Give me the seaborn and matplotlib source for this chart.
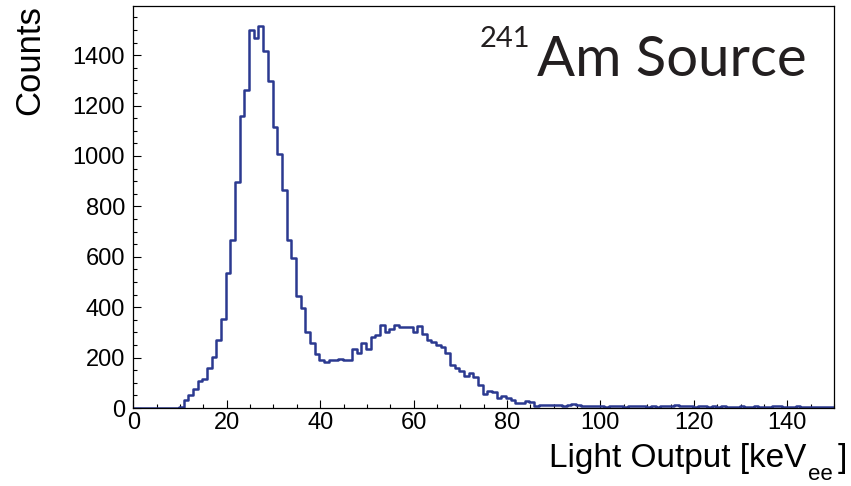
import numpy as np
import pandas as pd
import matplotlib
matplotlib.use("Agg")
import matplotlib.pyplot as plt
import seaborn as sns

# ---- data (counts per 1 keV bin) ----
bin_index = list(range(150))
counts = [0]*10 + [
    5, 32, 52, 75, 107, 114, 157, 204, 270, 354,          # 10-19
    537, 666, 895, 1158, 1261, 1499, 1468, 1517, 1417, 1296,  # 20-29
    1115, 1006, 865, 666, 594, 444, 395, 303, 259, 214,   # 30-39
    190, 184, 190, 189, 194, 189, 189, 234, 219, 259,     # 40-49
    233, 280, 291, 329, 300, 312, 329, 323, 320, 323,     # 50-59
    303, 327, 292, 270, 261, 250, 243, 219, 171, 157,     # 60-69
    148, 127, 140, 124, 91, 56, 69, 63, 41, 48,           # 70-79
    41, 32, 19, 19, 28, 23, 9, 13, 13, 12,                # 80-89
    12, 10, 9, 11, 16, 10, 7, 7, 6, 6,                    # 90-99
    6, 5, 7, 6, 8, 5, 9, 7, 6, 8,                         # 100-109
    5, 8, 5, 6, 9, 7, 11, 8, 6, 9,                        # 110-119
    5, 6, 8, 5, 7, 5, 6, 5, 4, 4,                         # 120-129
    6, 4, 5, 8, 5, 4, 4, 6, 7, 5,                         # 130-139
    4, 4, 6, 5, 5, 4, 3, 5, 4, 5,                         # 140-149
]
x_ticks = [0, 20, 40, 60, 80, 100, 120, 140]
y_ticks = [0, 200, 400, 600, 800, 1000, 1200, 1400]
x_label_main = "Light Output [keV"
x_label_sub = "ee"
x_label_end = "]"
y_label = "Counts"
source_mass = "241"
source_name = "Am Source"

# ---- style ----
sns.set_style("ticks")
plt.rcParams["font.family"] = ["Liberation Sans", "DejaVu Sans"]
plt.rcParams["text.color"] = "black"
plt.rcParams["axes.labelcolor"] = "black"
plt.rcParams["xtick.color"] = "black"
plt.rcParams["ytick.color"] = "black"

W, H = 851, 486
fig = plt.figure(figsize=(W / 100, H / 100), dpi=100)
ax = fig.add_axes([133.3 / W, (H - 408) / H, (834 - 133.3) / W, (408 - 6) / H])

edges = np.arange(151, dtype=float) - 0.2
edges[0] = 0.0
edges[-1] = 150.0
centers = (edges[:-1] + edges[1:]) / 2
df = pd.DataFrame({"energy": centers, "counts": np.asarray(counts, dtype=float)})

sns.histplot(data=df, x="energy", weights="counts", bins=[float(e) for e in edges],
             element="step", fill=False, color="#2b3990", linewidth=1.8, ax=ax)

ax.set_xlim(0, 150)
ax.set_ylim(0, 1595)
ax.set_xticks(x_ticks)
ax.set_yticks(y_ticks)
ax.set_xticks(np.arange(0, 151, 5), minor=True)
ax.set_yticks(np.arange(0, 1596, 50), minor=True)
ax.tick_params(axis="both", which="both", direction="in", top=False, right=False,
               labelsize=17, width=0.8, color="black", labelcolor="black")
ax.tick_params(axis="y", which="major", length=6, pad=6)
ax.tick_params(axis="y", which="minor", length=3)
ax.tick_params(axis="x", which="major", length=5.5, pad=3)
ax.tick_params(axis="x", which="minor", length=3)
for s in ax.spines.values():
    s.set_visible(True)
    s.set_linewidth(0.9)
    s.set_color("black")

ax.set_xlabel("")
ax.set_ylabel(y_label, fontsize=25, ha="right", color="black")
ax.yaxis.set_label_coords(-0.124, 1.003)

# x-axis title drawn in three pieces (ROOT style subscript)
t_main = fig.text(549 / W, (H - 466.5) / H, x_label_main, fontsize=24,
                  ha="left", va="baseline", color="black")
fig.canvas.draw()
r = fig.canvas.get_renderer()
bb = t_main.get_window_extent(r)
t_sub = fig.text((bb.x1 + 2) / W, (H - 480) / H, x_label_sub, fontsize=16,
                 ha="left", va="baseline", color="black")
bb2 = t_sub.get_window_extent(r)
fig.text((bb2.x1 + 5) / W, (H - 466.5) / H, x_label_end, fontsize=24,
         ha="left", va="baseline", color="black")

fig.text(530 / W, (H - 39) / H, source_mass, fontsize=21, ha="right", va="center",
         family=["Lato", "DejaVu Sans"], color="#231f20")
fig.text(537 / W, (H - 76) / H, source_name, fontsize=40.5, ha="left", va="baseline",
         family=["Lato", "DejaVu Sans"], color="#231f20")

fig.savefig("out.png", dpi=100)
